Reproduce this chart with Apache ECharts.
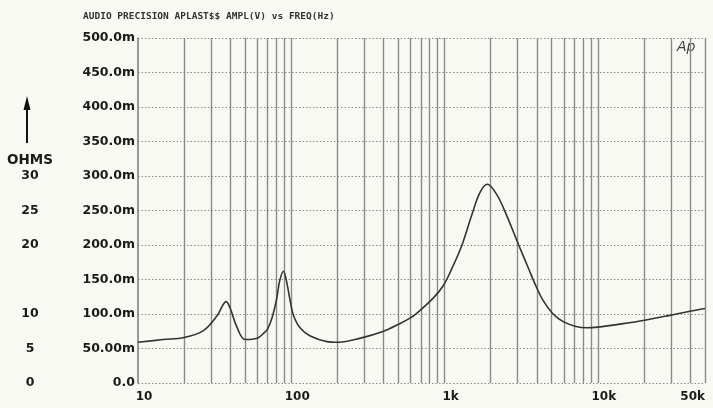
<!DOCTYPE html>
<html>
<head>
<meta charset="utf-8">
<script src="https://cdn.jsdelivr.net/npm/echarts@6/dist/echarts.min.js"></script>
<style>
  html, body { margin: 0; padding: 0; background: #f9f9f4; }
  #chart { width: 713px; height: 408px; }
</style>
</head>
<body>
<div id="chart"></div>
<script>
// Measured amplitude (V) against frequency (Hz)
const freqHz = [10, 14.6, 20, 26.7, 32.7, 37.6, 40, 44, 50, 60, 66, 70, 75, 80, 84, 89, 93, 98, 103, 114, 133, 171, 203, 283, 400, 510, 595, 658, 843, 980, 1085, 1294, 1503, 1700, 1900, 2192, 2540, 3030, 3530, 3900, 4380, 5100, 5940, 7200, 8400, 10000, 14600, 20200, 29400, 37800, 50000];
const amplV  = [0.059, 0.063, 0.066, 0.076, 0.097, 0.118, 0.108, 0.082, 0.063, 0.065, 0.072, 0.078, 0.095, 0.120, 0.148, 0.162, 0.148, 0.121, 0.099, 0.080, 0.068, 0.060, 0.059, 0.065, 0.075, 0.086, 0.094, 0.101, 0.123, 0.141, 0.160, 0.199, 0.243, 0.276, 0.288, 0.273, 0.243, 0.201, 0.166, 0.143, 0.120, 0.100, 0.089, 0.082, 0.080, 0.081, 0.086, 0.091, 0.098, 0.103, 0.108];

// Axis ranges
const freqRange = [10, 50000];
const amplRange = [0, 0.5];
const amplStep = 0.05;

// Impedance scale shown beside the amplitude ticks (one entry per 50m tick, from 0 upward)
const ohmsLabels = ['0', '5', '10', '', '20', '25', '30', '', '', '', ''];

const titleText = 'AUDIO PRECISION APLAST$$ AMPL(V) vs FREQ(Hz)';

// Vertical grid at every 1..9 multiple of each decade inside the range
const gridFreqs = [];
for (let d = 10; d <= freqRange[1]; d *= 10) {
  for (let m = 1; m <= 9; m++) {
    const f = d * m;
    if (f > freqRange[0] && f <= freqRange[1]) gridFreqs.push(f);
  }
}

function fmtAmpl(v) {
  if (Math.abs(v) < 1e-9) return '0.0';
  const mv = v * 1000;
  return (mv < 100 ? mv.toFixed(2) : mv.toFixed(1)) + 'm';
}
function fmtFreq(v) {
  const r = Math.round(v);
  return r >= 1000 ? (r / 1000) + 'k' : String(r);
}

const labelFont = { fontFamily: 'DejaVu Sans', fontWeight: 'bold', color: '#1a1a1a' };

const chart = echarts.init(document.getElementById('chart'), null, { renderer: 'canvas' });
chart.setOption({
  backgroundColor: '#f9f9f4',
  animation: false,
  grid: { left: 138, right: 8, top: 38, bottom: 25, containLabel: false, outerBoundsMode: 'none' },
  title: {
    text: titleText,
    left: 83, top: 12, padding: 0,
    textStyle: { fontFamily: 'DejaVu Sans Mono', fontWeight: 'bold', fontSize: 9.5, color: '#333' }
  },
  xAxis: {
    type: 'log',
    logBase: 10,
    min: freqRange[0],
    max: freqRange[1],
    axisLine: { show: false },
    axisTick: { show: false },
    splitLine: { show: false },
    axisLabel: Object.assign({
      fontSize: 12,
      margin: 8,
      padding: [0, 0, 0, 12],
      showMinLabel: true,
      showMaxLabel: true,
      hideOverlap: false,
      alignMaxLabel: 'right',
      formatter: fmtFreq
    }, labelFont)
  },
  yAxis: [
    {
      type: 'value',
      min: amplRange[0],
      max: amplRange[1],
      interval: amplStep,
      axisLine: { show: true, lineStyle: { color: '#7a7a7a', width: 1.5 } },
      axisTick: { show: false },
      splitLine: { show: true, lineStyle: { color: '#8a8a8a', type: [1.5, 2], width: 1 } },
      axisLabel: Object.assign({ fontSize: 12.5, margin: 3, formatter: fmtAmpl }, labelFont)
    },
    {
      type: 'value',
      position: 'left',
      offset: 108,
      min: amplRange[0],
      max: amplRange[1],
      interval: amplStep,
      axisLine: { show: false },
      axisTick: { show: false },
      splitLine: { show: false },
      axisLabel: Object.assign({
        fontSize: 12.5, margin: 0, align: 'center',
        formatter: v => ohmsLabels[Math.round(v / amplStep)] || ''
      }, labelFont)
    }
  ],
  graphic: [
    { type: 'line', shape: { x1: 27, y1: 108, x2: 27, y2: 143 }, style: { stroke: '#111', lineWidth: 2 } },
    { type: 'polygon', shape: { points: [[27, 96], [23.5, 110], [30.5, 110]] }, style: { fill: '#111' } },
    { type: 'text', left: 7, top: 153, style: { text: 'OHMS', font: 'bold 13.5px "DejaVu Sans"', fill: '#1a1a1a' } },
    { type: 'text', left: 677, top: 40, style: { text: 'Ap', font: 'italic 14px "DejaVu Sans"', fill: '#444' } }
  ],
  series: [
    {
      type: 'line',
      z: 10,
      smooth: 0.35,
      symbol: 'none',
      data: freqHz.map((f, i) => [f, amplV[i]]),
      lineStyle: { color: '#333', width: 1.6 },
      markLine: {
        silent: true,
        symbol: ['none', 'none'],
        label: { show: false },
        lineStyle: { color: '#8a8a8a', type: 'solid', width: 1.4 },
        data: gridFreqs.map(f => ({ xAxis: f }))
      }
    }
  ]
});
</script>
</body>
</html>
